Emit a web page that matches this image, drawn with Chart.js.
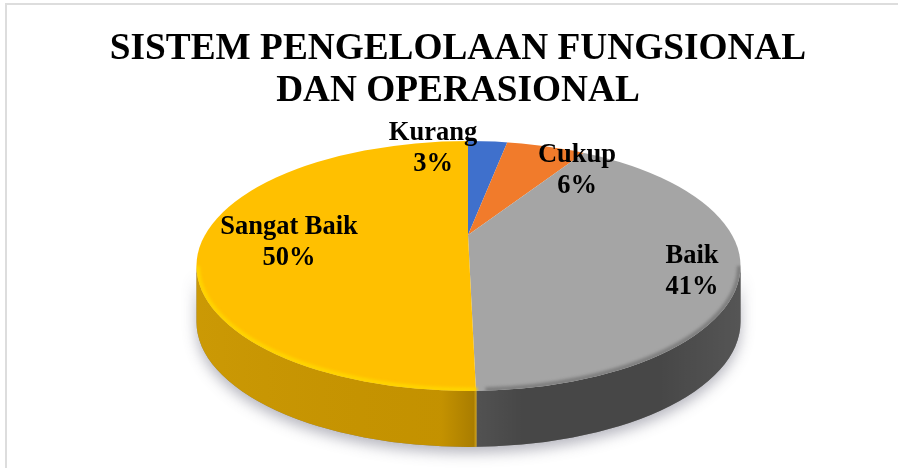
<!DOCTYPE html>
<html>
<head>
<meta charset="utf-8">
<script src="https://cdn.jsdelivr.net/npm/chart.js@4"></script>
<style>
  html, body { margin: 0; padding: 0; background: #fff; overflow: hidden; }
  canvas { display: block; }
</style>
</head>
<body>
<canvas id="chart" width="898" height="468"></canvas>
<script>
const categories = ["Kurang", "Cukup", "Baik", "Sangat Baik"];
const values = [3, 6, 41, 50];
const topColors = ["#3F70CC", "#F17B2B", "#A5A5A5", "#FFC000"];
const sideColors = ["#2F5597", "#B85F20", "#474747", "#C89500"];
const titleLines = ["SISTEM PENGELOLAAN FUNGSIONAL", "DAN OPERASIONAL"];

// where the tilted pie sits on the page
const pie = { cx: 468.5, cy: 266, rx: 272, ry: 125, depth: 56, apexX: 468, apexY: 235, squash: 0.45, shear: 0.051 };
const labelSpots = [[433, 133], [577, 155], [692, 256], [289, 227]];

function ellipsePath(ctx, dy) {
  ctx.beginPath();
  ctx.ellipse(pie.cx, pie.cy + dy, pie.rx, pie.ry, 0, 0, Math.PI * 2);
}

function wallPath(ctx) {
  ctx.beginPath();
  ctx.ellipse(pie.cx, pie.cy, pie.rx, pie.ry, 0, Math.PI, 0, true);
  ctx.ellipse(pie.cx, pie.cy + pie.depth, pie.rx, pie.ry, 0, 0, Math.PI, false);
  ctx.closePath();
}

// draws the library's arcs squashed around the apex, sheared a little below it
function drawArcs(ctx, arcs, apexX, shear) {
  const w = ctx.canvas.width, h = ctx.canvas.height;
  [[0, pie.apexY, 0], [pie.apexY, h - pie.apexY, shear]].forEach(([top, height, k]) => {
    ctx.save();
    ctx.beginPath();
    ctx.rect(0, top, w, height);
    ctx.clip();
    arcs.forEach(arc => {
      ctx.save();
      ctx.translate(apexX, pie.apexY);
      ctx.transform(1, 0, k * pie.squash, pie.squash, 0, 0);
      ctx.translate(-arc.x, -arc.y);
      arc.draw(ctx);
      ctx.restore();
    });
    ctx.restore();
  });
}

const tiltedPie = {
  id: "tiltedPie",
  beforeDraw(chart) {
    const ctx = chart.ctx;
    ctx.fillStyle = "#DDDDDD";
    ctx.fillRect(5, 3, 893, 2);
    ctx.fillRect(5, 3, 2, 465);
  },
  beforeDatasetsDraw(chart) {
    const ctx = chart.ctx;
    const arcs = chart.getDatasetMeta(0).data;

    // soft shadow under the wall
    ctx.save();
    ctx.shadowColor = "rgba(90,90,110,0.45)";
    ctx.shadowBlur = 14;
    ctx.shadowOffsetY = 6;
    ctx.fillStyle = "#888";
    wallPath(ctx);
    ctx.fill();
    ctx.restore();

    // side wall
    ctx.save();
    wallPath(ctx);
    ctx.clip();
    arcs.forEach((arc, i) => { arc.options.backgroundColor = sideColors[i]; });
    drawArcs(ctx, arcs, pie.apexX + 8.5, 0);
    const shade = ctx.createLinearGradient(pie.cx - pie.rx, 0, pie.cx + pie.rx, 0);
    shade.addColorStop(0, "rgba(255,220,80,0.06)");
    shade.addColorStop(0.45, "rgba(60,40,0,0.03)");
    shade.addColorStop(0.51, "rgba(60,40,0,0.22)");
    shade.addColorStop(0.515, "rgba(255,255,255,0.06)");
    shade.addColorStop(0.6, "rgba(255,255,255,0)");
    shade.addColorStop(0.85, "rgba(255,255,255,0)");
    shade.addColorStop(1, "rgba(255,255,255,0.08)");
    ctx.fillStyle = shade;
    ctx.fillRect(pie.cx - pie.rx, pie.cy - pie.ry, pie.rx * 2, pie.ry * 2 + pie.depth);
    ctx.restore();

    // top face
    ctx.save();
    ellipsePath(ctx, 0);
    ctx.clip();
    arcs.forEach((arc, i) => { arc.options.backgroundColor = topColors[i]; });
    drawArcs(ctx, arcs, pie.apexX, pie.shear);

    // bevel along the front rim
    ctx.filter = "blur(1.5px)";
    ctx.lineWidth = 5;
    ctx.strokeStyle = "#FFD400";
    ctx.beginPath();
    ctx.ellipse(pie.cx, pie.cy, pie.rx - 1, pie.ry - 1, 0, Math.PI * 0.49, Math.PI);
    ctx.stroke();
    ctx.strokeStyle = "#7E7E7E";
    ctx.beginPath();
    ctx.ellipse(pie.cx, pie.cy, pie.rx - 1, pie.ry - 1, 0, 0, Math.PI * 0.48);
    ctx.stroke();
    ctx.restore();

    return false;
  },
  // afterDatasetsDraw is skipped once beforeDatasetsDraw returns false
  afterDraw(chart) {
    const ctx = chart.ctx;
    ctx.save();
    ctx.fillStyle = "#000";
    ctx.font = "bold 26.5px 'Liberation Serif'";
    ctx.textAlign = "center";
    ctx.textBaseline = "middle";
    categories.forEach((name, i) => {
      const [x, y] = labelSpots[i];
      ctx.fillText(name, x, y);
      ctx.fillText(values[i] + "%", x, y + 31);
    });
    ctx.restore();
  }
};

new Chart(document.getElementById("chart"), {
  type: "pie",
  data: {
    labels: categories,
    datasets: [{ data: values, backgroundColor: topColors, borderWidth: 0, radius: 800 }]
  },
  plugins: [tiltedPie],
  options: {
    responsive: false,
    animation: false,
    layout: { padding: { left: 18 } },
    plugins: {
      legend: { display: false },
      tooltip: { enabled: false },
      title: {
        display: true,
        fullSize: false,
        text: titleLines,
        color: "#000",
        font: { family: "'Liberation Serif'", size: 37.3, weight: "bold", lineHeight: 1.14 },
        padding: { top: 28, bottom: 0 }
      }
    }
  }
});
</script>
</body>
</html>
